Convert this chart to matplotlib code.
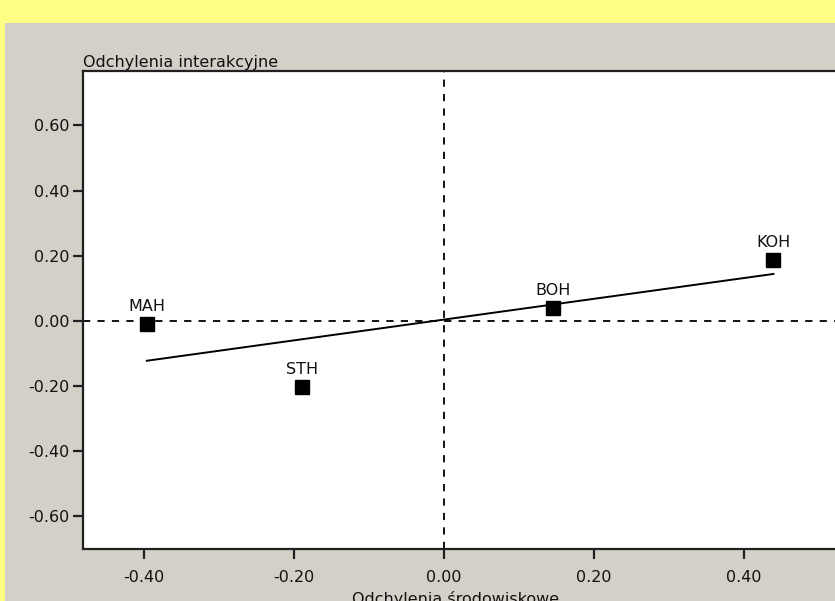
import numpy as np
import matplotlib.pyplot as plt
from matplotlib.patches import Rectangle

# environmental vs interaction deviations for each site
sites = ["MAH", "STH", "BOH", "KOH"]
env_dev = [-0.396, -0.189, 0.145, 0.439]
int_dev = [-0.009, -0.202, 0.040, 0.187]

xticks = [-0.40, -0.20, 0.00, 0.20, 0.40]
yticks = [-0.60, -0.40, -0.20, 0.00, 0.20, 0.40, 0.60]
xtick_labels = ["-0.40", "-0.20", "0.00", "0.20", "0.40"]
ytick_labels = ["-0.60", "-0.40", "-0.20", "0.00", "0.20", "0.40", "0.60"]

plt.rcParams["font.family"] = ["DejaVu Sans"]

W, H = 835, 601
fig = plt.figure(figsize=(W / 100, H / 100), dpi=100)
fig.patch.set_facecolor("#ffff88")

# grey panel under the chart
fig.patches.append(Rectangle((5 / W, 0), 1, (H - 23) / H, transform=fig.transFigure,
                             facecolor="#d4d0c8", edgecolor="none", zorder=-5))

ax = fig.add_axes([83 / W, (H - 549) / H, (W - 83) / W, (549 - 71) / H])
ax.set_zorder(2)
ax.set_facecolor("white")
ax.set_xlim(-0.481, 0.521)
ax.set_ylim(-0.70, 0.767)

for s in ["left", "bottom", "top"]:
    ax.spines[s].set_linewidth(1.6)
    ax.spines[s].set_color("#202020")
ax.spines["right"].set_visible(False)

ax.set_xticks(xticks, xtick_labels)
ax.set_yticks(yticks, ytick_labels)
ax.tick_params(direction="out", length=7, width=1.6, color="#202020",
               labelsize=11.5, labelcolor="#111111", pad=3)
ax.tick_params(axis="x", pad=8)

# reference axes through zero
ax.axhline(0, color="black", lw=1.3, ls=(0, (4, 4)), zorder=1)
ax.axvline(0, color="black", lw=1.3, ls=(0, (4, 4)), zorder=1)

# fitted trend line across the data range
x = np.array(env_dev)
y = np.array(int_dev)
k, b = np.polyfit(x, y, 1)
xs = np.array([x.min(), x.max()])
ax.plot(xs, k * xs + b, color="black", lw=1.4, zorder=2)

ax.plot(x, y, "s", color="black", markersize=9.5, zorder=3)
for name, xi, yi in zip(sites, x, y):
    ax.annotate(name, (xi, yi), xytext=(0, 7), textcoords="offset points",
                ha="center", va="bottom", fontsize=11.5, color="#111111")

fig.text(83 / W, 1 - 67 / H, "Odchylenia interakcyjne", ha="left", va="baseline",
         fontsize=11.5, color="#111111")
fig.text(456 / W, 1 - 591 / H, "Odchylenia środowiskowe", ha="center", va="top",
         fontsize=11.5, color="#111111")

fig.savefig("out.png", dpi=100, facecolor=fig.get_facecolor())
